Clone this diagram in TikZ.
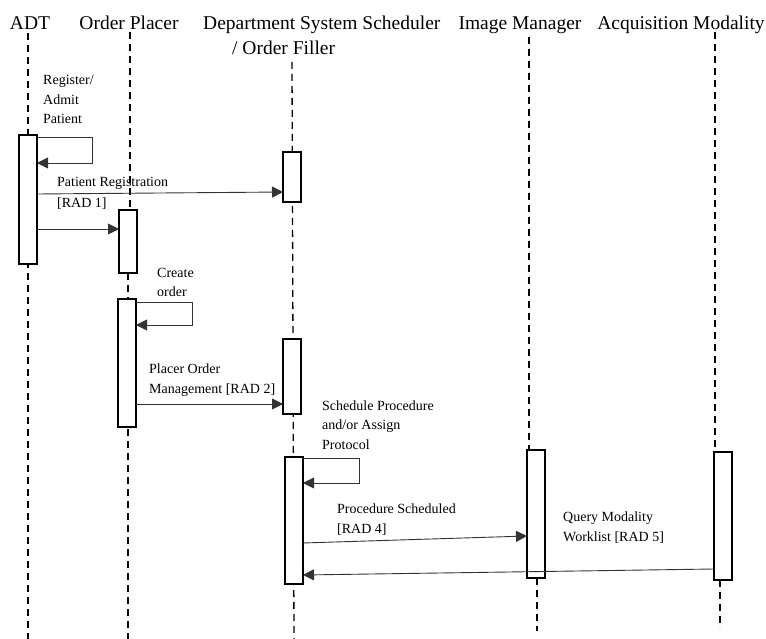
\documentclass[tikz,border=0pt]{standalone}
\usepackage{fontspec}
\setmainfont{Liberation Serif}
\usetikzlibrary{arrows.meta}
\begin{document}
\begin{tikzpicture}[x=1pt,y=-1pt,
  head/.style={font=\fontsize{19.5}{22}\selectfont, inner sep=0pt},
  lbl/.style={font=\fontsize{14}{19.5}\selectfont, inner sep=0pt, align=left, anchor=base west},
  life/.style={line width=1.3pt, dash pattern=on 7pt off 5pt},
  actbox/.style={draw, line width=1.8pt, fill=white, inner sep=0pt, outer sep=0pt,
                 minimum width=18pt, anchor=north west},
  msg/.style={line width=0.9pt, draw=black!80, -{Triangle[length=11pt,width=11pt]}},
]
\useasboundingbox (0,0) rectangle (766,639);

% participants
\node[head, anchor=base] (adt) at (30,30) {ADT};
\node[head, anchor=base] (op) at (129,30) {Order Placer};
\node[head, anchor=base west] (dss) at (203,30) {Department System Scheduler};
\node[head, anchor=base west] (dss2) at (232,55) {/ Order Filler};
\node[head, anchor=base] (im) at (520,30) {Image Manager};
\node[head, anchor=base] (acq) at (681,30) {Acquisition Modality};

% lifeline ends
\coordinate (adtTop) at (28,33);   \coordinate (adtEnd) at (28,639);
\coordinate (opTop) at (130,32);   \coordinate (opEnd) at (128,639);
\coordinate (dssTop) at (292,62);  \coordinate (dssEnd) at (294,639);
\coordinate (imTop) at (529,37);   \coordinate (imEnd) at (537,631);
\coordinate (acqTop) at (715,32);  \coordinate (acqEnd) at (720,628);

% lifelines
\draw[life] (adtTop) -- (adtEnd);
\draw[life] (opTop) -- (130,210) (128,273) -- (opEnd);
\draw[life] (dssTop) -- (dssEnd);
\draw[life] (imTop) -- (529,450) (537,578) -- (imEnd);
\draw[life] (acqTop) -- (715,452) (720,580) -- (acqEnd);

% activation bars
\path
  (19,135)  node[actbox, minimum height=129pt] (adtA) {}
  (119,210) node[actbox, minimum height=63pt]  (opA) {}
  (118,299) node[actbox, minimum height=128pt] (opB) {}
  (283,152) node[actbox, minimum height=50pt]  (dssA) {}
  (283,339) node[actbox, minimum height=75pt]  (dssB) {}
  (285,457) node[actbox, minimum height=127pt] (dssC) {}
  (527,450) node[actbox, minimum height=128pt] (imA) {}
  (714,452) node[actbox, minimum height=128pt] (acqA) {};

% messages
\draw[msg] ([yshift=-2pt]adtA.north east) -| ++(55,26) -- ([yshift=-28pt]adtA.north east);
\draw[msg] ([yshift=-59pt]adtA.north east) -- ([yshift=-40pt]dssA.north west);
\draw[msg] ([yshift=-94pt]adtA.north east) -- ([yshift=-19pt]opA.north west);
\draw[msg] ([yshift=-3pt]opB.north east) -| ++(56,23) -- ([yshift=-26pt]opB.north east);
\draw[msg] ([yshift=-105pt]opB.north east) -- ([yshift=-65pt]dssB.north west);
\draw[msg] ([yshift=-1pt]dssC.north east) -| ++(56,25) -- ([yshift=-26pt]dssC.north east);
\draw[msg] ([yshift=-86pt]dssC.north east) -- ([yshift=-86pt]imA.north west);
\draw[msg] ([yshift=-117pt]acqA.north west) -- ([yshift=-118pt]dssC.north east);

% message labels (anchored on the baseline of their last line)
\node[lbl] (l1) at (43,124) {Register/\\Admit\\Patient};
\node[lbl, font=\fontsize{14}{21}\selectfont] (l2) at (57,208) {Patient Registration\\{}[RAD 1]};
\node[lbl] (l3) at (157,297) {Create\\order};
\node[lbl] (l4) at (149,393) {Placer Order\\Management [RAD 2]};
\node[lbl] (l5) at (322,449) {Schedule Procedure\\and/or Assign\\Protocol};
\node[lbl] (l6) at (337,533) {Procedure Scheduled\\{}[RAD 4]};
\node[lbl] (l7) at (563,541) {Query Modality\\Worklist [RAD 5]};
\end{tikzpicture}
\end{document}
